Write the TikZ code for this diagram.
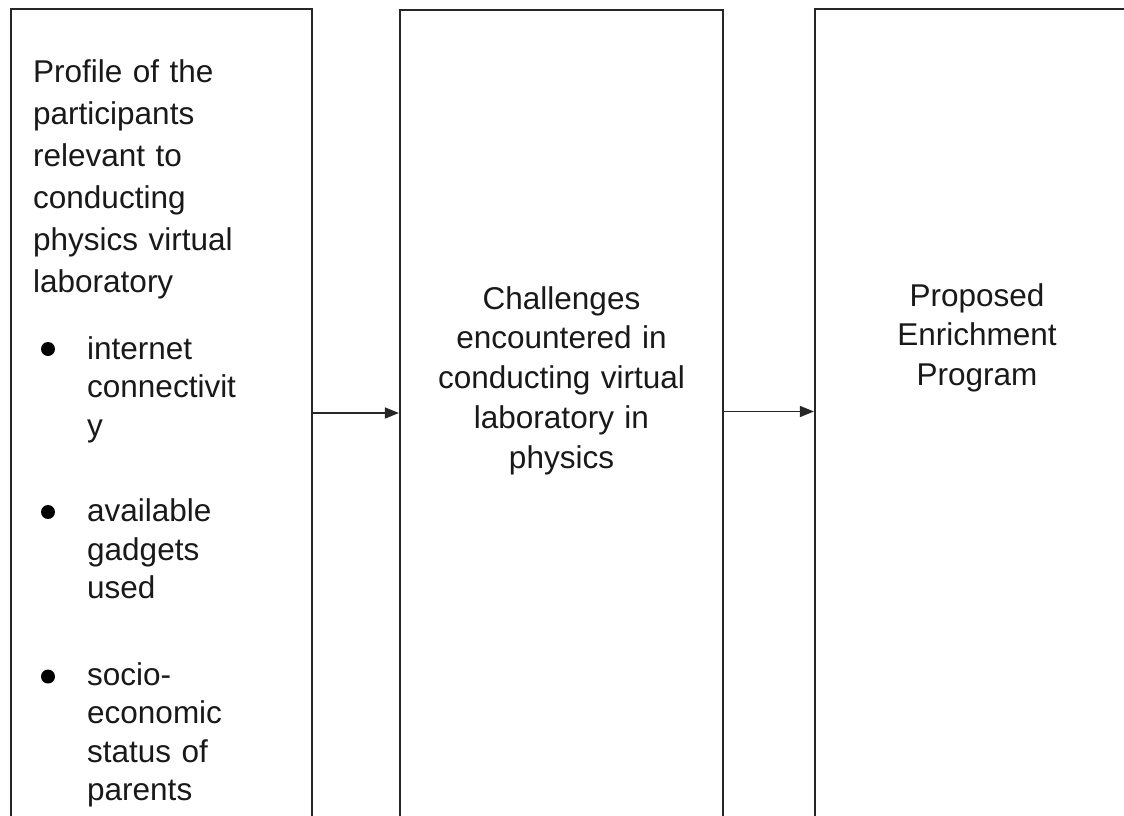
\documentclass[tikz,border=0pt]{standalone}
\usepackage{fontspec}
\setmainfont{Liberation Sans}
\usetikzlibrary{arrows.meta}
\begin{document}
\begin{tikzpicture}[x=1pt,y=-1pt,
  box/.style={draw=black!85, line width=2.2pt, minimum width=#1, inner sep=0pt},
  txt/.style={text=black!90, inner sep=0pt, font={\fontsize{31.5}{42}\selectfont}},
  listtxt/.style={txt, font={\fontsize{31.5}{38.5}\selectfont}, text width=220pt, align=left, anchor=base west},
  ctxt/.style={txt, font={\fontsize{31.5}{39.8}\selectfont}, text width=330pt, align=center, anchor=base},
  dot/.style={circle, fill=black, inner sep=0pt, minimum size=14pt},
  arr/.style={draw=black!85, line width=1.5pt, -{Triangle[length=14pt,width=11pt]}}]
\useasboundingbox (0,0) rectangle (1124,816);
\clip (0,0) rectangle (1124,816);
\fill[white] (0,0) rectangle (1124,816);
% boxes
\node[box=301pt, minimum height=821pt] (L) at (161.5,419.5) {};
\node[box=323pt, minimum height=820pt] (M) at (561.5,420) {};
\node[box=330pt, minimum height=821pt] (R) at (980,419.5) {};
% left text
\node[txt, text width=270pt, align=left, anchor=base west] (ltitle) at (33,82)
  {Profile of the\\participants\\relevant to\\conducting\\physics virtual\\laboratory};
\node[dot] (b1) at (48,349) {};
\node[dot] (b2) at (48,512) {};
\node[dot] (b3) at (48,676.5) {};
\node[listtxt] (i1) at (87,359) {internet\\connectivit\\y};
\node[listtxt] (i2) at (87,521.5) {available\\gadgets\\used};
\node[listtxt] (i3) at (87,685) {socio-\\economic\\status of\\parents};
% middle and right text
\node[ctxt] (mtext) at (561.5,309)
  {Challenges\\encountered in\\conducting virtual\\laboratory in\\physics};
\node[ctxt] (rtext) at (977,306) {Proposed\\Enrichment\\Program};
% arrows
\draw[arr] ([yshift=6.5pt]L.east) -- ([yshift=6.5pt]L.east -| M.west);
\draw[arr] ([yshift=8.5pt]M.east) -- ([yshift=8.5pt]M.east -| R.west);
\end{tikzpicture}
\end{document}
